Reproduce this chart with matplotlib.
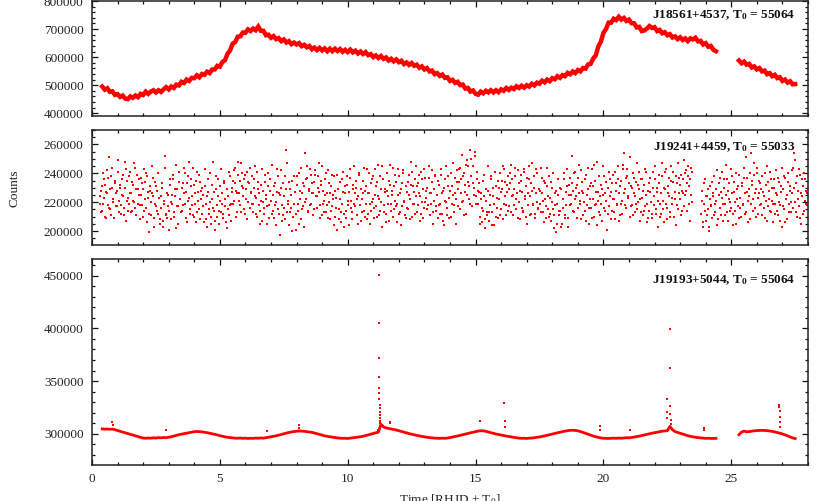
import numpy as np
import matplotlib
matplotlib.use("Agg")
import matplotlib.pyplot as plt
from matplotlib.ticker import MultipleLocator

plt.rcParams['font.family'] = ['Liberation Serif', 'DejaVu Serif']
plt.rcParams['mathtext.fontset'] = 'custom'
plt.rcParams['mathtext.rm'] = 'Liberation Serif'
plt.rcParams['mathtext.it'] = 'Liberation Serif:italic'
plt.rcParams['mathtext.bf'] = 'Liberation Serif:bold'

# ---------------- DATA (counts in thousands) ----------------
labels = [r'J18561+4537, T$_{\mathbf{0}}$ = 55064',
          r'J19241+4459, T$_{\mathbf{0}}$ = 55033',
          r'J19193+5044, T$_{\mathbf{0}}$ = 55064']

# Panel 1 : J18561+4537 (cadence 0.1 d)
p1_step = 0.1
p1_start_a = 0.4
p1_counts_a = [
    495, 484, 489, 476, 478, 465, 468, 458, 463, 452,
    450, 460, 455, 463, 457, 469, 465, 477, 469, 477,
    482, 474, 482, 476, 485, 493, 485, 495, 490, 502,
    499, 512, 508, 520, 515, 526, 525, 535, 528, 540,
    537, 548, 543, 556, 556, 569, 566, 583, 589, 612,
    624, 648, 654, 673, 674, 688, 687, 699, 693, 702,
    696, 709, 694, 694, 678, 680, 669, 675, 664, 668,
    657, 663, 652, 657, 646, 652, 645, 650, 639, 644,
    635, 640, 628, 634, 625, 633, 624, 631, 621, 630,
    621, 630, 622, 629, 619, 626, 618, 627, 617, 623,
    613, 620, 611, 618, 607, 611, 600, 606, 597, 604,
    594, 599, 588, 594, 585, 592, 582, 587, 575, 581,
    572, 579, 569, 573, 562, 567, 556, 561, 549, 552,
    539, 543, 533, 538, 526, 528, 515, 519, 508, 512,
    500, 502, 488, 490, 477, 481, 469, 466, 477, 471,
    480, 474, 482, 474, 482, 475, 485, 480, 490, 483,
    491, 486, 496, 490, 498, 491, 500, 495, 505, 499,
    509, 505, 516, 510, 520, 514, 525, 521, 532, 526,
    536, 532, 544, 539, 549, 543, 554, 549, 561, 559,
    574, 576, 595, 606, 638, 655, 687, 700, 723, 723,
    737, 732, 744, 734, 740, 729, 734, 721, 721, 706,
    708, 693, 695, 702, 711, 704, 707, 693, 697, 685,
    689, 678, 682, 670, 674, 664, 671, 661, 667, 657,
    667, 663, 669, 656, 658, 645, 650, 637, 640, 626,
    621]
p1_start_b = 25.3
p1_counts_b = [588, 578, 584, 573, 576, 563, 567, 556, 561, 549,
               552, 539, 543, 532, 537, 525, 528, 515, 520, 509,
               514, 503, 504]

# Panel 2 : J19241+4459 (two interleaved sample sets, each with cadence 0.04 d)
p2_step = 0.04
p2_start_a = 0.30
p2_counts_days_0_4 = [
    224, 213, 231, 219, 236, 210, 227, 242, 218, 251,
    215, 238, 230, 222, 209, 233, 226, 217, 249, 221,
    230, 212, 225, 239, 216, 248, 207, 235, 223, 219,
    241, 226, 214, 232, 220, 244, 211, 229, 236, 218,
    225, 233, 210, 243, 222, 216, 238, 227, 199, 231,
    220, 245, 224, 209, 234, 217, 228, 212, 223, 205,
    216, 230, 203, 221, 252, 211, 209, 225, 214, 232,
    208, 219, 236, 213, 224, 202, 229, 217, 241, 222,
    214, 233, 244, 219, 227, 206, 238, 223, 215, 231,
    218, 244, 210, 226, 235, 213, 221, 239, 208, 228]
p2_counts_days_4_8 = [
    212, 225, 206, 231, 219, 203, 227, 215, 240, 210,
    222, 248, 214, 207, 229, 218, 236, 205, 221, 213,
    226, 209, 233, 217, 202, 224, 211, 238, 219, 230,
    235, 221, 244, 228, 213, 239, 226, 218, 247, 231,
    224, 236, 212, 229, 241, 220, 233, 216, 227, 238,
    219, 230, 245, 223, 210, 234, 226, 214, 221, 207,
    228, 216, 239, 222, 205, 231, 218, 236, 212, 225,
    209, 233, 220, 243, 215, 226, 197, 230, 218, 211,
    224, 238, 256, 213, 221, 204, 229, 216, 235, 210,
    219, 227, 201, 232, 214, 240, 222, 208, 226, 217]
p2_counts_days_8_12 = [
    231, 254, 222, 237, 214, 228, 243, 219, 233, 226,
    215, 239, 224, 230, 247, 218, 235, 211, 228, 221,
    236, 213, 226, 242, 220, 208, 231, 217, 225, 238,
    210, 223, 201, 229, 215, 234, 206, 219, 241, 212,
    226, 209, 232, 218, 204, 237, 221, 213, 229, 245,
    217, 230, 211, 224, 239, 207, 222, 235, 214, 228,
    219, 243, 212, 226, 205, 233, 220, 238, 216, 225,
    231, 210, 246, 222, 214, 229, 203, 236, 218, 227,
    212, 240, 224, 207, 232, 219, 228, 244, 215, 221,
    234, 206, 225, 238, 213, 229, 217, 242, 220, 209]
p2_counts_days_12_16 = [
    227, 215, 239, 222, 248, 210, 231, 219, 236, 224,
    213, 233, 226, 207, 241, 220, 229, 216, 237, 223,
    230, 218, 245, 211, 226, 234, 205, 221, 239, 214,
    225, 209, 232, 219, 243, 212, 228, 204, 236, 220,
    216, 238, 223, 210, 231, 247, 218, 226, 205, 234,
    229, 243, 215, 236, 253, 221, 240, 227, 212, 249,
    234, 222, 256, 238, 217, 245, 230, 252, 224, 241,
    219, 233, 210, 226, 206, 214, 239, 202, 221, 211,
    228, 207, 218, 236, 213, 224, 204, 231, 216, 209,
    222, 240, 215, 229, 245, 219, 234, 211, 227, 238]
p2_counts_days_16_20 = [
    217, 233, 246, 224, 211, 229, 238, 215, 226, 242,
    220, 208, 235, 227, 214, 241, 222, 231, 205, 218,
    236, 224, 212, 247, 219, 230, 209, 226, 240, 215,
    228, 213, 237, 221, 206, 233, 217, 244, 224, 210,
    223, 207, 230, 215, 202, 226, 199, 219, 236, 211,
    214, 229, 205, 222, 240, 209, 218, 231, 203, 225,
    237, 219, 252, 228, 213, 241, 224, 232, 216, 246,
    221, 208, 234, 226, 214, 239, 218, 229, 205, 231,
    216, 243, 222, 210, 235, 219, 248, 227, 213, 224,
    232, 207, 225, 238, 214, 221, 201, 230, 217, 236]
p2_counts_days_20_23 = [
    227, 214, 239, 222, 208, 233, 219, 245, 226, 211,
    235, 221, 243, 254, 229, 216, 238, 224, 210, 231,
    218, 240, 226, 213, 234, 247, 220, 229, 207, 236,
    223, 211, 232, 217, 241, 206, 228, 214, 237, 220,
    209, 230, 224, 245, 215, 227, 203, 233, 219, 212,
    238, 221, 206, 229, 243, 216, 231, 224, 210, 235,
    219, 241, 227, 204, 233, 215, 237, 222, 211, 228,
    236, 249, 225, 242, 214, 238, 231, 207, 244, 220]
p2_start_b = 23.82
p2_counts_days_24_28 = [
    212, 228, 203, 219, 236, 207, 224, 215, 200, 231,
    218, 209, 226, 238, 213, 221, 204, 233, 216, 227,
    241, 219, 230, 211, 225, 236, 207, 222, 214, 243,
    226, 212, 234, 220, 205, 229, 217, 239, 223, 210,
    231, 218, 244, 226, 213, 237, 221, 229, 208, 254,
    235, 222, 247, 216, 229, 240, 212, 226, 233, 219,
    238, 224, 209, 232, 245, 217, 228, 214, 236, 221,
    206, 230, 219, 242, 225, 211, 234, 218, 227, 203,
    229, 215, 237, 222, 208, 240, 219, 231, 213, 226,
    244, 254, 220, 233, 210, 228, 217, 239, 205, 224,
    231, 214, 236, 219, 226]
# second interleaved set (half a cadence later)
p2_start_c = 0.32
p2_counts_days_0_4_c = [
    219, 228, 214, 240, 223, 232, 209, 226, 237, 216,
    229, 211, 244, 220, 235, 217, 228, 241, 213, 232,
    218, 236, 224, 211, 230, 243, 221, 214, 238, 226,
    213, 234, 221, 247, 216, 229, 239, 219, 225, 208,
    237, 218, 229, 214, 234, 240, 206, 223, 212, 228,
    211, 226, 237, 203, 219, 231, 214, 240, 208, 224,
    233, 207, 219, 244, 212, 226, 217, 201, 236, 220,
    225, 239, 210, 229, 246, 217, 205, 234, 222, 213,
    230, 218, 226, 240, 209, 233, 221, 248, 212, 236,
    224, 211, 232, 219, 206, 241, 227, 215, 234, 222]
p2_counts_days_4_8_c = [
    230, 217, 243, 208, 224, 236, 212, 220, 205, 232,
    216, 227, 201, 238, 210, 224, 214, 231, 243, 219,
    212, 235, 222, 206, 229, 215, 241, 218, 207, 227,
    219, 242, 233, 210, 226, 248, 221, 235, 213, 240,
    230, 215, 239, 222, 208, 234, 244, 226, 219, 213,
    236, 224, 212, 241, 229, 218, 205, 232, 243, 220,
    212, 234, 225, 217, 240, 209, 228, 221, 246, 214,
    231, 218, 204, 227, 238, 212, 225, 242, 207, 233,
    216, 208, 229, 247, 219, 234, 213, 225, 200, 238,
    227, 212, 238, 219, 205, 228, 244, 215, 233, 203]
p2_counts_days_8_12_c = [
    220, 236, 245, 213, 229, 218, 239, 226, 211, 234,
    242, 224, 216, 238, 227, 209, 232, 245, 219, 213,
    225, 240, 218, 209, 233, 226, 214, 239, 222, 204,
    228, 216, 239, 208, 222, 213, 236, 227, 203, 231,
    214, 238, 221, 227, 243, 216, 208, 232, 219, 226,
    235, 222, 205, 240, 218, 229, 213, 226, 244, 210,
    231, 208, 226, 240, 219, 214, 236, 222, 209, 243,
    217, 234, 224, 211, 238, 220, 245, 213, 229, 206,
    228, 219, 235, 246, 214, 225, 210, 231, 239, 217,
    219, 243, 212, 226, 204, 233, 240, 221, 211, 231]
p2_counts_days_12_16_c = [
    216, 234, 225, 208, 232, 241, 219, 227, 212, 245,
    231, 218, 239, 224, 212, 236, 209, 243, 220, 228,
    215, 237, 226, 219, 242, 213, 229, 238, 217, 225,
    235, 218, 212, 239, 226, 207, 230, 221, 245, 211,
    231, 209, 228, 240, 219, 225, 213, 237, 222, 242,
    217, 234, 244, 226, 220, 238, 211, 232, 246, 225,
    245, 231, 219, 250, 233, 225, 255, 219, 236, 228,
    227, 205, 222, 216, 235, 224, 208, 229, 213, 245,
    213, 225, 238, 204, 230, 219, 241, 210, 223, 235,
    230, 211, 227, 235, 208, 243, 224, 218, 232, 214]
p2_counts_days_16_20_c = [
    229, 240, 213, 236, 225, 218, 244, 222, 209, 233,
    228, 239, 216, 213, 243, 224, 210, 237, 226, 245,
    211, 233, 228, 218, 238, 212, 243, 220, 216, 229,
    219, 244, 226, 213, 235, 222, 209, 231, 215, 238,
    212, 234, 220, 240, 211, 218, 228, 205, 225, 214,
    230, 203, 216, 236, 211, 227, 243, 209, 232, 218,
    225, 233, 214, 240, 222, 230, 209, 237, 226, 219,
    242, 228, 211, 220, 236, 207, 225, 244, 216, 222,
    233, 209, 231, 246, 218, 227, 204, 221, 238, 211,
    219, 229, 245, 216, 226, 234, 212, 241, 224, 208]
p2_counts_days_20_23_c = [
    233, 222, 213, 241, 228, 218, 236, 207, 231, 219,
    212, 246, 226, 218, 237, 243, 223, 233, 251, 217,
    230, 211, 237, 224, 219, 215, 232, 241, 222, 213,
    236, 228, 214, 243, 225, 219, 209, 233, 227, 212,
    241, 218, 236, 212, 230, 221, 239, 210, 226, 247,
    215, 230, 241, 219, 208, 226, 237, 213, 245, 223,
    234, 210, 222, 238, 218, 247, 226, 232, 239, 214,
    226, 217, 240, 228, 233, 245, 219, 236, 225, 241]
p2_start_d = 23.84
p2_counts_days_24_28_c = [
    221, 206, 233, 214, 224, 211, 229, 203, 222, 217,
    234, 224, 211, 219, 229, 242, 208, 225, 237, 211,
    223, 207, 236, 219, 246, 213, 228, 233, 220, 216,
    238, 204, 227, 214, 240, 222, 231, 209, 216, 233,
    219, 237, 212, 251, 227, 206, 224, 240, 219, 232,
    214, 239, 226, 210, 244, 223, 235, 218, 229, 211,
    227, 216, 240, 221, 207, 234, 222, 241, 213, 230,
    219, 236, 212, 226, 214, 237, 220, 207, 231, 244,
    217, 238, 206, 225, 234, 213, 228, 220, 242, 216,
    230, 249, 213, 238, 222, 243, 209, 226, 236, 212,
    240, 221, 228, 218]

# Panel 3 : J19193+5044 (cadence 0.1 d)
p3_step = 0.1
p3_start_a = 0.4
p3_counts_a = [
    304.6, 304.3, 304.5, 304.2, 304.4, 303.8, 303.0, 302.3, 301.6, 300.9,
    300.2, 299.5, 298.8, 298.0, 297.2, 296.5, 295.9, 295.7, 295.9, 295.8,
    296.1, 295.9, 296.3, 296.1, 296.4, 296.2, 296.6, 297.1, 297.8, 298.5,
    299.1, 299.6, 300.2, 300.7, 301.2, 301.5, 301.9, 302.1, 302.0, 301.8,
    301.4, 300.9, 300.5, 300.0, 299.4, 298.8, 298.1, 297.5, 297.0, 296.6,
    296.3, 296.0, 295.8, 295.7, 295.9, 295.6, 295.8, 295.5, 295.7, 295.6,
    295.9, 295.7, 296.0, 295.8, 296.2, 296.5, 297.0, 297.5, 298.0, 298.6,
    299.3, 300.0, 300.6, 301.2, 301.7, 302.1, 302.4, 302.6, 302.5, 302.3,
    302.0, 301.7, 301.3, 300.7, 300.0, 299.3, 298.6, 298.0, 297.5, 297.1,
    296.7, 296.3, 296.0, 295.8, 295.6, 295.7, 295.5, 295.8, 296.0, 296.3,
    296.7, 297.1, 297.6, 298.2, 298.9, 299.6, 300.3, 300.9, 301.5, 309.0,
    306.5, 305.5, 305.0, 304.6, 304.1, 303.5, 302.8, 302.1, 301.4, 300.7,
    300.1, 299.5, 298.9, 298.4, 297.9, 297.4, 297.0, 296.6, 296.3, 296.0,
    295.8, 295.7, 295.6, 295.8, 295.6, 295.9, 296.3, 296.8, 297.3, 297.9,
    298.5, 299.1, 299.6, 300.2, 300.8, 301.4, 302.0, 302.5, 302.8, 302.7,
    302.3, 301.7, 301.0, 300.3, 299.7, 299.2, 298.7, 298.2, 297.8, 297.3,
    296.9, 296.5, 296.1, 295.8, 295.6, 295.7, 295.5, 295.8, 295.9, 296.2,
    296.5, 296.9, 297.4, 297.9, 298.5, 299.1, 299.7, 300.3, 300.9, 301.5,
    302.0, 302.5, 302.9, 303.2, 303.3, 303.1, 302.7, 302.1, 301.3, 300.4,
    299.5, 298.6, 297.8, 297.1, 296.5, 296.0, 295.7, 295.6, 295.5, 295.6,
    295.8, 295.6, 295.9, 295.7, 296.0, 296.2, 296.1, 296.4, 296.8, 297.2,
    297.7, 298.2, 298.8, 299.4, 300.0, 300.5, 301.0, 301.5, 302.0, 302.4,
    302.6, 302.9, 307.0, 303.8, 302.0, 301.2, 300.3, 299.5, 298.8, 298.1,
    297.5, 297.0, 296.6, 296.3, 296.0, 295.8, 295.6, 295.7, 295.5, 295.6,
    295.6]
p3_start_b = 25.3
p3_counts_b = [299.0, 301.5, 302.5, 301.8, 302.0, 302.4, 302.7, 303.0, 303.1, 303.2,
               303.1, 302.9, 302.6, 302.2, 301.7, 301.1, 300.5, 299.8, 298.9, 298.0,
               297.0, 296.0, 295.4]
# flare / outlier points of panel 3
p3_flare_time = [0.80, 0.82, 2.88, 6.85, 8.08, 8.10,
                 11.20, 11.21, 11.22, 11.22, 11.23, 11.23, 11.24, 11.24, 11.25,
                 11.25, 11.26, 11.26, 11.27, 11.27, 11.28,
                 11.66, 11.67, 15.16, 16.13, 16.14, 16.15, 19.86, 19.87, 21.04,
                 22.47, 22.48, 22.49, 22.59, 22.60, 22.61, 22.62, 22.63, 22.64,
                 23.92, 23.93,
                 26.87, 26.88, 26.89, 26.90, 26.91, 26.92]
p3_flare_counts = [311.5, 308.0, 303.8, 302.5, 308.2, 305.5,
                   304.0, 450.6, 404.7, 371.5, 353.5, 343.0, 338.9, 332.6, 327.2,
                   324.1, 320.9, 317.5, 315.0, 312.5, 310.0,
                   311.4, 309.9, 312.3, 329.4, 312.3, 306.6, 307.0, 304.0, 303.5,
                   333.2, 320.6, 314.6, 399.0, 362.0, 326.3, 319.0, 313.0, 309.0,
                   305.7, 303.5,
                   326.9, 325.0, 321.5, 316.1, 311.4, 306.6]

# ---------------- PLOT ----------------
RED = '#ff0000'
K = 1000.0

def times(start, step, n):
    return start + step * np.arange(n)

fig = plt.figure(figsize=(8.30, 5.01), dpi=100)
L, W = 92 / 830, 716 / 830
ax1 = fig.add_axes([L, 1 - 116 / 501, W, 115.5 / 501])
ax2 = fig.add_axes([L, 1 - 245 / 501, W, 115 / 501])
ax3 = fig.add_axes([L, 1 - 465 / 501, W, 205.7 / 501])

# panel 1
for st, vals in ((p1_start_a, p1_counts_a), (p1_start_b, p1_counts_b)):
    t = times(st, p1_step, len(vals))
    ax1.plot(t, np.array(vals) * K, color=RED, lw=3.2, solid_joinstyle='miter')

# panel 2
p2_a = (p2_counts_days_0_4 + p2_counts_days_4_8 + p2_counts_days_8_12 +
        p2_counts_days_12_16 + p2_counts_days_16_20 + p2_counts_days_20_23)
p2_c = (p2_counts_days_0_4_c + p2_counts_days_4_8_c + p2_counts_days_8_12_c +
        p2_counts_days_12_16_c + p2_counts_days_16_20_c + p2_counts_days_20_23_c)
for st, vals in ((p2_start_a, p2_a), (p2_start_b, p2_counts_days_24_28),
                 (p2_start_c, p2_c), (p2_start_d, p2_counts_days_24_28_c)):
    t = times(st, p2_step, len(vals))
    ax2.plot(t, np.array(vals) * K, ls='none', color=RED, marker='s', ms=1.6, mew=0)

# panel 3
for st, vals in ((p3_start_a, p3_counts_a), (p3_start_b, p3_counts_b)):
    t = times(st, p3_step, len(vals))
    ax3.plot(t, np.array(vals) * K, color=RED, lw=2.0)
ax3.plot(p3_flare_time, np.array(p3_flare_counts) * K, ls='none', color=RED,
         marker='s', ms=1.8, mew=0)

ylims = [(390000, 802000), (190300, 270000), (270300, 465600)]
ymaj = [100000, 20000, 50000]
ymin = [20000, 5000, 10000]
label_y = [0.87, 0.855, 0.90]
for ax, yl, mj, mn, lab, ly in zip((ax1, ax2, ax3), ylims, ymaj, ymin, labels, label_y):
    ax.set_xlim(0, 28)
    ax.set_ylim(*yl)
    ax.xaxis.set_major_locator(MultipleLocator(5))
    ax.xaxis.set_minor_locator(MultipleLocator(1))
    ax.yaxis.set_major_locator(MultipleLocator(mj))
    ax.yaxis.set_minor_locator(MultipleLocator(mn))
    ax.tick_params(which='both', direction='in', top=True, right=True,
                   labelsize=9.5, width=0.9, color='#111111', labelcolor='#222222')
    ax.tick_params(which='major', length=4.5, pad=6)
    ax.tick_params(which='minor', length=2.5)
    for s in ax.spines.values():
        s.set_linewidth(1.1)
        s.set_color('#222222')
    ax.text(0.982, ly, lab, transform=ax.transAxes, ha='right', va='center',
            fontsize=9.5, fontweight='bold', color='#111111')

ax1.tick_params(labelbottom=False)
ax2.tick_params(labelbottom=False)

fig.text(14 / 830, 1 - 188 / 501, 'Counts', rotation=90, ha='center', va='center',
         fontsize=9.5, color='#222222')
fig.text(450 / 830, 1 - 492 / 501, r'Time [RHJD + T$_0$]', ha='center', va='top',
         fontsize=9.5, color='#222222')

fig.savefig('out.png', dpi=100)
